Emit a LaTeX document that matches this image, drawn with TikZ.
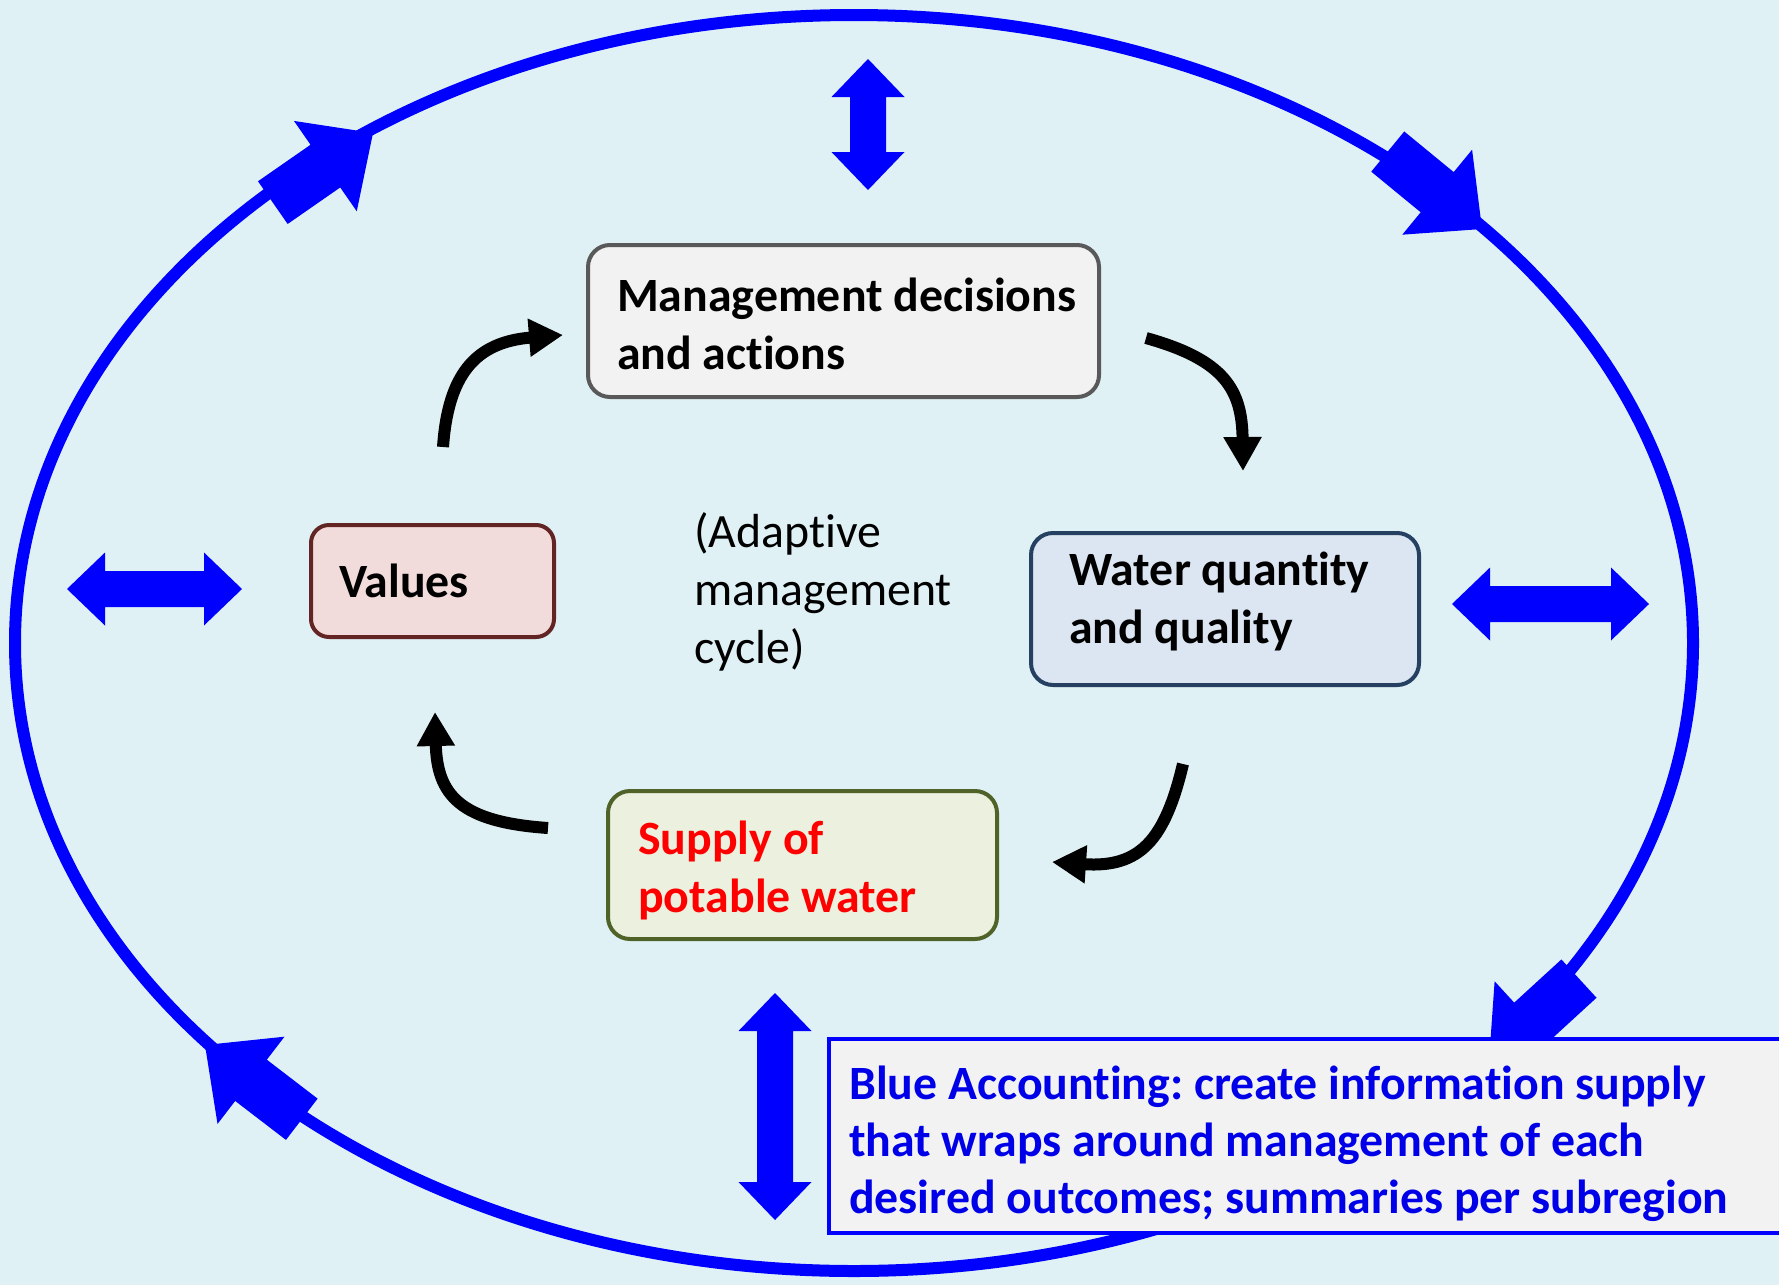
\documentclass[tikz,border=0pt]{standalone}
\usepackage{fontspec}
\setmainfont{Carlito}[Ligatures={NoCommon,NoContextual}]
\usetikzlibrary{arrows.meta}
\definecolor{bg}{RGB}{223,241,245}
\definecolor{mgmtborder}{RGB}{89,89,89}
\definecolor{mgmtfill}{RGB}{242,242,242}
\definecolor{valborder}{RGB}{99,37,35}
\definecolor{valfill}{RGB}{242,220,219}
\definecolor{watborder}{RGB}{37,64,97}
\definecolor{watfill}{RGB}{220,230,242}
\definecolor{supborder}{RGB}{79,98,40}
\definecolor{supfill}{RGB}{235,241,222}
\definecolor{pureblue}{RGB}{0,0,255}
\definecolor{textblue}{RGB}{0,0,232}
\newcommand\ellarrow[2]{\fill[pureblue,shift={#1},rotate=#2] (0,0) -- (-58,55) -- (-58,26) -- (-122,26) -- (-122,-26) -- (-58,-26) -- (-58,-55) -- cycle;}
\newcommand\dblarrow[3]{\fill[pureblue,shift={#1},rotate=#2] (0,0) -- (38,36.5) -- (38,18) -- ({#3-38},18) -- ({#3-38},36.5) -- (#3,0) -- ({#3-38},-36.5) -- ({#3-38},-18) -- (38,-18) -- (38,-36.5) -- cycle;}
\begin{document}
\frenchspacing
\begin{tikzpicture}[x=1pt,y=-1pt,
  boxstyle/.style={draw, line width=4pt, rounded corners=22pt, inner sep=0pt, anchor=center},
  boxtext/.style={anchor=west, inner sep=0pt, align=left,
    font=\fontsize{47.8}{58}\selectfont\bfseries},
  cyc/.style={line width=12pt, -{Triangle[length=34pt,width=36pt]}},
]
\useasboundingbox (0,0) rectangle (1779,1285);
\clip (0,0) rectangle (1779,1285);
\fill[bg] (0,0) rectangle (1779,1285);

% outer cycle
\draw[pureblue, line width=12pt] (854,643) ellipse [x radius=839, y radius=628];
\ellarrow{(373,133)}{34.8}
\ellarrow{(1482,229)}{-39.4}
\ellarrow{(1489,1061)}{-137.5}
\ellarrow{(205,1045)}{142.5}

% double arrows
\dblarrow{(868,59)}{-90}{131}
\dblarrow{(67,589)}{0}{175}
\dblarrow{(1452,604)}{0}{197}
\dblarrow{(775,993)}{-90}{227}

% boxes
\node[boxstyle, draw=mgmtborder, fill=mgmtfill, minimum width=511pt, minimum height=152pt] (mgmt) at (843.5,321) {};
\node[boxtext] (mgmttext) at ([xshift=31pt,yshift=-3pt]mgmt.west) {Management decisions\\and actions};

\node[boxstyle, draw=valborder, fill=valfill, rounded corners=18pt, minimum width=243pt, minimum height=112pt] (val) at (432.5,581) {};
\node[boxtext] (valtext) at ([xshift=30pt]val.west) {Values};

\node[boxstyle, draw=watborder, fill=watfill, minimum width=388pt, minimum height=152pt] (wat) at (1225,609) {};
\node[boxtext] (wattext) at ([xshift=40pt,yshift=8pt]wat.west) {Water quantity\\and quality};

\node[boxstyle, draw=supborder, fill=supfill, minimum width=389pt, minimum height=148pt] (sup) at (802.5,865) {};
\node[boxtext, text=red] (suptext) at ([xshift=32pt,yshift=-5pt]sup.west) {Supply of\\potable water};

\node[font=\fontsize{47.8}{58}\selectfont, align=left, anchor=west, inner sep=0pt] (adapt) at (694,592)
  {(Adaptive\\management\\cycle)};

% cycle arrows
\coordinate (a1s) at (443,447); \coordinate (a1e) at (563,335);
\coordinate (a2s) at (1146,338); \coordinate (a2e) at (1243,471);
\coordinate (a3s) at (1183,764); \coordinate (a3e) at (1052,862);
\coordinate (a4s) at (548,828); \coordinate (a4e) at (435,712);
\draw[cyc] (a1s) .. controls (448,375) and (475,342) .. (a1e);
\draw[cyc] (a2s) .. controls (1225,360) and (1242,390) .. (a2e);
\draw[cyc] (a3s) .. controls (1165,840) and (1140,868) .. (a3e);
\draw[cyc] (a4s) .. controls (460,822) and (437,795) .. (a4e);

% blue accounting box
\node[draw=pureblue, line width=4pt, fill=mgmtfill, minimum width=971pt, minimum height=194pt,
  inner sep=0pt] (blue) at (1314.5,1136) {};
\node[boxtext, text=textblue, font=\fontsize{47.8}{57}\selectfont\bfseries] (bluetext) at ([xshift=22pt,yshift=-8pt]blue.west)
  {Blue Accounting: create information supply\\that wraps around management of each\\desired outcomes; summaries per subregion};
\end{tikzpicture}
\end{document}
